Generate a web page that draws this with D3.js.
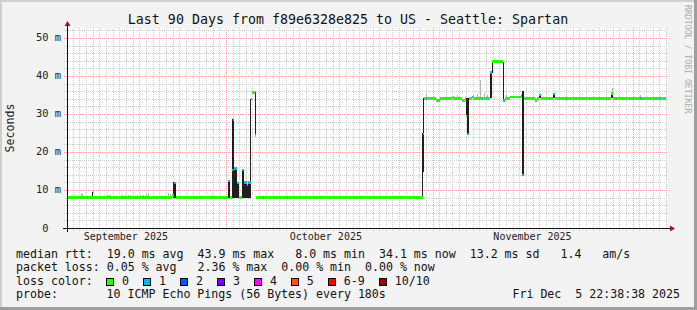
<!DOCTYPE html>
<html>
<head>
<meta charset="utf-8">
<script src="https://cdn.jsdelivr.net/npm/d3@7"></script>
<style>
  body { margin: 0; background: #f3f3f3; }
  text { font-family: "DejaVu Sans Mono", monospace; white-space: pre; }
</style>
</head>
<body>
<svg id="chart"></svg>
<script>
// loss classes of the smokeping legend
const lossLabels = ['0', '1', '2', '3', '4', '5', '6-9', '10/10']
const lossColors = ['#26ff00', '#00b8ff', '#0059ff', '#7e00ff', '#ff00ff', '#ff5500', '#ff0000', '#a10000']

// median rtt, as steps: start (days after graph start), ms, loss class
const medDay = [0, 2.95, 3.1, 3.85, 4.1, 15.8, 16.05, 16.3, 24.1, 24.4, 24.8, 24.95, 25.1, 25.5, 25.8,
  26.2, 26.55, 26.95, 27.2, 27.55, 27.7, 28.2, 28.3, 29.4, 29.55, 33.0, 33.15, 53.35, 53.55, 53.85,
  54.05, 55.35, 55.95, 57.75, 57.9, 59.2, 59.7, 59.85, 60.05, 60.35, 60.75, 60.9, 62.2, 62.35, 62.8,
  62.95, 63.45, 63.8, 65.45, 65.7, 66.45, 68.1, 68.3, 68.6, 70.2, 70.45, 70.85, 71.1, 72.9, 73.15,
  74.95, 75.1, 81.55, 81.85, 85.95, 86.3, 88.95, 89.1]
const medMs = [8.0, 8.0, 8.0, 9.4, 8.0, 8.6, 11.9, 8.0, 12.3, 8.0, 15.3, 28.6, 15.7, 11.9, 8.0,
  15.3, 12.0, 11.3, 12.0, 34.0, 35.7, 24.3, 8.0, 8.0, 8.0, 8.0, 8.0, 24.8, 34.1, 34.1,
  34.1, 33.6, 34.1, 34.4, 34.1, 33.5, 34.1, 29.4, 24.8, 34.1, 34.5, 34.1, 34.1, 34.1, 34.1,
  34.1, 40.9, 43.8, 33.5, 34.1, 34.5, 34.7, 13.9, 34.1, 33.5, 34.1, 35.0, 34.1, 35.3, 34.1,
  34.1, 34.1, 35.4, 34.1, 34.1, 34.1, 34.1, 34.1]
const medLoss = [0, 1, 0, 0, 0, 0, 1, 0, 1, 0, 0, 1, 1, 1, 0,
  1, 1, 0, 1, 0, 0, 0, 0, 1, 0, 1, 0, 1, 0, 1,
  0, 0, 0, 0, 0, 0, 0, 0, 1, 0, 1, 0, 1, 0, 1,
  0, 1, 0, 1, 0, 0, 1, 1, 0, 0, 0, 1, 0, 1, 0,
  1, 0, 0, 0, 1, 0, 1, 0]
const medLast = 89.8

// dense smoke: from day, to day, low ms, high ms
const smokeFrom = [3.75, 15.95, 24.1, 24.8, 25.1, 25.5, 26.2, 26.55, 26.95, 27.2, 27.45, 28.15,
  53.3, 53.3, 53.45, 59.85, 60.05, 63.45, 63.7, 65.35, 68.3, 70.85, 72.9, 81.55]
const smokeTo = [3.95, 16.3, 24.4, 25.1, 25.5, 25.8, 26.55, 26.95, 27.2, 27.55, 27.65, 28.3,
  53.6, 53.45, 53.6, 60.05, 60.35, 63.75, 63.85, 65.55, 68.6, 71.1, 73.15, 81.85]
const smokeLo = [8.0, 8.0, 8.0, 8.0, 8.0, 8.0, 8.0, 8.0, 8.0, 8.0, 8.0, 24.3,
  14.8, 8.0, 24.9, 29.4, 24.8, 34.1, 40.9, 33.5, 13.8, 34.1, 34.1, 34.1]
const smokeHi = [9.5, 12.0, 12.4, 28.6, 15.7, 11.9, 15.3, 12.0, 11.3, 12.0, 34.0, 35.7,
  24.9, 14.8, 34.1, 34.1, 34.1, 40.9, 43.8, 43.8, 36.1, 35.0, 35.4, 35.7]

// faint smoke ticks above the median: day, high ms
const faintDay = [2.05, 2.3, 5.95, 6.2, 6.45, 8.2, 8.7, 9.15, 9.45, 10.45, 10.95, 11.4, 11.85, 12.2,
  15.2, 15.45, 21.75, 23.25, 53.9, 58.5, 60.85, 61.5, 61.9, 62.55, 63.0, 65.85, 68.15, 81.75, 86.0]
const faintHi = [9.1, 9.0, 8.7, 8.8, 8.7, 8.6, 8.8, 8.7, 8.6, 8.7, 8.6, 8.8, 8.9, 9.1,
  9.2, 8.9, 8.6, 8.5, 35.2, 35.0, 35.0, 35.2, 38.9, 35.4, 34.9, 35.0, 35.2, 36.8, 35.0]

const legendLines = [
  'median rtt:  19.0 ms avg  43.9 ms max   8.0 ms min  34.1 ms now  13.2 ms sd   1.4   am/s',
  'packet loss: 0.05 % avg   2.36 % max  0.00 % min  0.00 % now'
]
const probeText = '10 ICMP Echo Pings (56 Bytes) every 180s'
const stamp = 'Fri Dec  5 22:38:38 2025'
const title = 'Last 90 Days from f89e6328e825 to US - Seattle: Spartan'

const W = 697, H = 310
const plot = {left: 67, right: 667, top: 28, bottom: 228}
const DAY = 864e5
const graphEnd = Date.UTC(2025, 11, 6, 4, 12)
const graphStart = graphEnd - 90 * DAY
const t = d => new Date(graphStart + d * DAY)

const x = d3.scaleUtc()
    .domain([t(0), t(90)])
    .range([plot.left, plot.right])
const y = d3.scaleLinear()
    .domain([0, 52.63])
    .range([plot.bottom, plot.top])

const svg = d3.select('#chart')
    .attr('width', W)
    .attr('height', H)

svg.append('rect').attr('width', W).attr('height', H).attr('fill', '#f3f3f3')
svg.append('path').attr('d', `M0,0H${W}V2H2V${H}H0Z`).attr('fill', '#cfcfcf')
svg.append('path').attr('d', `M${W},${H}H0V${H - 3}H${W - 3}V0H${W}Z`).attr('fill', '#9e9e9e')

svg.append('rect')
    .attr('x', plot.left).attr('y', plot.top)
    .attr('width', plot.right - plot.left).attr('height', plot.bottom - plot.top)
    .attr('fill', '#ffffff')

const grid = svg.append('g').attr('shape-rendering', 'crispEdges')

// minor grid
const days = d3.utcDay.range(t(0), t(90))
const months = d3.utcMonth.range(t(0), t(90))
grid.selectAll('.vmin')
    .data(days.filter(d => d.getUTCDate() !== 1))
    .enter().append('line')
    .attr('x1', d => Math.round(x(d)) + 0.5).attr('x2', d => Math.round(x(d)) + 0.5)
    .attr('y1', plot.top).attr('y2', plot.bottom + 3)
    .attr('stroke', '#cdcdcd').attr('stroke-dasharray', '1,1')

const yMinor = y.ticks(26).filter(v => v % 10 !== 0)
grid.selectAll('.hmin')
    .data(yMinor)
    .enter().append('line')
    .attr('x1', plot.left - 3).attr('x2', plot.right + 1)
    .attr('y1', v => Math.round(y(v)) + 0.5).attr('y2', v => Math.round(y(v)) + 0.5)
    .attr('stroke', '#cdcdcd').attr('stroke-dasharray', '1,1')

// major grid
grid.selectAll('.vmaj')
    .data(months)
    .enter().append('line')
    .attr('x1', d => Math.round(x(d)) + 0.5).attr('x2', d => Math.round(x(d)) + 0.5)
    .attr('y1', plot.top).attr('y2', plot.bottom + 3)
    .attr('stroke', '#f2a4a4').attr('stroke-dasharray', '1,1')

const yMajor = y.ticks(5)
grid.selectAll('.hmaj')
    .data(yMajor.filter(v => v > 0))
    .enter().append('line')
    .attr('x1', plot.left - 3).attr('x2', plot.right + 1)
    .attr('y1', v => Math.round(y(v)) + 0.5).attr('y2', v => Math.round(y(v)) + 0.5)
    .attr('stroke', '#f2a4a4').attr('stroke-dasharray', '1,1')

const marks = svg.append('g').attr('shape-rendering', 'crispEdges')

// faint smoke
const medianAt = d => medMs[d3.bisectRight(medDay, d) - 1]
marks.selectAll('.faint')
    .data(faintDay.map((d, i) => ({d, hi: faintHi[i], lo: medianAt(d)})))
    .enter().append('rect')
    .attr('x', p => x(t(p.d)))
    .attr('width', 1)
    .attr('y', p => y(p.hi))
    .attr('height', p => y(p.lo) - y(p.hi))
    .attr('fill', '#b4b4b4')

// dense smoke
marks.selectAll('.smoke')
    .data(smokeFrom.map((d, i) => ({d0: d, d1: smokeTo[i], lo: smokeLo[i], hi: smokeHi[i]})))
    .enter().append('rect')
    .attr('x', p => x(t(p.d0)))
    .attr('width', p => Math.max(1, x(t(p.d1)) - x(t(p.d0))))
    .attr('y', p => y(p.hi))
    .attr('height', p => y(p.lo) - y(p.hi))
    .attr('fill', '#1f1f1f')

// median line coloured by loss
const medSegs = medDay.map((d, i) => ({
  d0: d, d1: i + 1 < medDay.length ? medDay[i + 1] : medLast, v: medMs[i], loss: medLoss[i]
}))
marks.selectAll('.median')
    .data(medSegs)
    .enter().append('rect')
    .attr('x', s => x(t(s.d0)))
    .attr('width', s => x(t(s.d1)) - x(t(s.d0)))
    .attr('y', s => y(s.v) - 1.2)
    .attr('height', 2.4)
    .attr('fill', s => lossColors[s.loss])

// axes
svg.append('line')
    .attr('x1', plot.left - 4).attr('x2', plot.right + 4)
    .attr('y1', plot.bottom + 0.5).attr('y2', plot.bottom + 0.5)
    .attr('stroke', '#111')
svg.append('line')
    .attr('x1', plot.left + 0.5).attr('x2', plot.left + 0.5)
    .attr('y1', plot.bottom + 4).attr('y2', plot.top - 3)
    .attr('stroke', '#111')
svg.append('path')
    .attr('d', `M${plot.right + 3},${plot.bottom - 2.5}L${plot.right + 8},${plot.bottom + 0.5}L${plot.right + 3},${plot.bottom + 3.5}Z`)
    .attr('fill', '#a01818')
svg.append('path')
    .attr('d', `M${plot.left - 2.5},${plot.top - 2}L${plot.left + 0.5},${plot.top - 7}L${plot.left + 3.5},${plot.top - 2}Z`)
    .attr('fill', '#a01818')

// tick labels
svg.selectAll('.ylab')
    .data(yMajor)
    .enter().append('text')
    .attr('x', 61).attr('y', v => y(v) + 3.5)
    .attr('text-anchor', 'end')
    .attr('font-size', 10.4)
    .attr('fill', '#222')
    .text(v => v ? v + ' m' : '0  ')

const monthLabels = d3.utcMonth.range(d3.utcMonth.floor(t(0)), t(90))
    .map(m => new Date(+m + 15 * DAY))
    .filter(m => m >= t(0) && m <= t(90))
svg.selectAll('.xlab')
    .data(monthLabels)
    .enter().append('text')
    .attr('x', d => x(d)).attr('y', 239.5)
    .attr('text-anchor', 'middle')
    .attr('font-size', 10)
    .attr('fill', '#222')
    .text(d3.utcFormat('%B %Y'))

svg.append('text')
    .attr('transform', `translate(14,${(plot.top + plot.bottom) / 2}) rotate(-90)`)
    .attr('text-anchor', 'middle')
    .attr('font-size', 11.6)
    .attr('fill', '#222')
    .text('Seconds')

svg.append('text')
    .attr('x', 348).attr('y', 23.5)
    .attr('text-anchor', 'middle')
    .attr('font-size', 13.3)
    .attr('fill', '#111')
    .text(title)

svg.append('text')
    .attr('transform', 'translate(684.5,5) rotate(90)')
    .attr('font-size', 8.2)
    .attr('fill', '#acacac')
    .text('RRDTOOL / TOBI OETIKER')

// legend
const lx = 16, cw = 6.97
const lineY = [257.5, 271, 284.5, 298]
legendLines.forEach((s, i) => {
  svg.append('text').attr('x', lx).attr('y', lineY[i])
      .attr('font-size', 11.6).attr('fill', '#111').text(s)
})
svg.append('text').attr('x', lx).attr('y', lineY[2])
    .attr('font-size', 11.6).attr('fill', '#111').text('loss color:')

let bx = lx + 13 * cw - 0.3
lossLabels.forEach((lab, i) => {
  svg.append('rect')
      .attr('x', Math.round(bx) + 0.5).attr('y', 278.5)
      .attr('width', 7).attr('height', 7)
      .attr('fill', lossColors[i]).attr('stroke', '#000')
      .attr('shape-rendering', 'crispEdges')
  svg.append('text').attr('x', bx + 15.7).attr('y', lineY[2])
      .attr('font-size', 11.6).attr('fill', '#111').text(lab)
  bx += 15.7 + lab.length * cw + 14.3
})

svg.append('text').attr('x', lx).attr('y', lineY[3])
    .attr('font-size', 11.6).attr('fill', '#111').text('probe:')
svg.append('text').attr('x', lx + 13 * cw).attr('y', lineY[3])
    .attr('font-size', 11.6).attr('fill', '#111').text(probeText)
svg.append('text').attr('x', 680).attr('y', lineY[3])
    .attr('text-anchor', 'end')
    .attr('font-size', 11.6).attr('fill', '#111').text(stamp)
</script>
</body>
</html>
